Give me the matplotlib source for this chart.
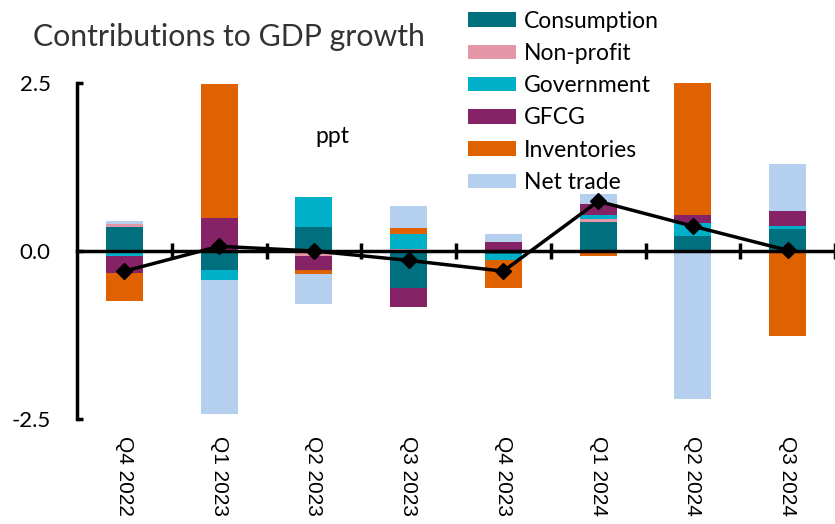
import numpy as np
import matplotlib
matplotlib.use('Agg')
import matplotlib.pyplot as plt

quarters = ['Q4 2022', 'Q1 2023', 'Q2 2023', 'Q3 2023', 'Q4 2023', 'Q1 2024', 'Q2 2024', 'Q3 2024']

consumption = [0.36, -0.28, 0.36, -0.55, -0.04, 0.43, 0.23, 0.32]
non_profit = [0.04, 0.00, -0.08, 0.03, 0.00, 0.04, 0.00, 0.00]
government = [-0.08, -0.15, 0.45, 0.23, -0.10, 0.06, 0.18, 0.05]
gfcg = [-0.25, 0.49, -0.20, -0.28, 0.14, 0.17, 0.12, 0.22]
inventories = [-0.41, 2.00, -0.06, 0.08, -0.41, -0.08, 2.00, -1.26]
net_trade = [0.05, -2.00, -0.45, 0.33, 0.12, 0.15, -2.20, 0.70]
gdp = [-0.30, 0.07, 0.00, -0.14, -0.30, 0.74, 0.37, 0.01]

names = ['Consumption', 'Non-profit', 'Government', 'GFCG', 'Inventories', 'Net trade']
colors = ['#00707E', '#E597AA', '#00AFC8', '#862366', '#E06100', '#B5D0EE']
series = [consumption, non_profit, government, gfcg, inventories, net_trade]

plt.rcParams['font.family'] = ['Lato', 'DejaVu Sans']

fig = plt.figure(figsize=(8.35, 5.24), dpi=100)
ax = fig.add_axes([77 / 835, 105 / 524, 758 / 835, 336 / 524])

x = np.arange(len(quarters))
pos_base = np.zeros(len(quarters))
neg_base = np.zeros(len(quarters))
for name, col, vals in zip(names, colors, series):
    v = np.array(vals)
    bottoms = np.where(v >= 0, pos_base, neg_base)
    ax.bar(x, v, 0.39, bottom=bottoms, color=col, label=name, zorder=2)
    pos_base += np.where(v >= 0, v, 0)
    neg_base += np.where(v < 0, v, 0)

ax.plot(x, gdp, color='black', lw=2.5, marker='D', ms=8.5, zorder=4)

ax.set_xlim(-0.5, 7.5)
ax.set_ylim(-2.5, 2.5)

ax.spines['top'].set_visible(False)
ax.spines['right'].set_visible(False)
ax.spines['left'].set_linewidth(2.5)
ax.spines['bottom'].set_position(('data', 0))
ax.spines['bottom'].set_linewidth(2.5)
ax.spines['bottom'].set_zorder(3)

ax.set_xticks(np.arange(0.5, 8, 1))
ax.set_xticklabels([])
ax.tick_params(axis='x', direction='inout', length=12, width=2.5)

ax.set_yticks([-2.5, 0, 2.5])
ax.set_yticklabels(['-2.5', '0.0', '2.5'])
ax.tick_params(axis='y', direction='in', length=4, width=2.5, labelsize=16, pad=19)

for i, q in enumerate(quarters):
    ax.text(i, -0.05, q, transform=ax.get_xaxis_transform(), rotation=270,
            ha='center', va='top', fontsize=15, family='Liberation Sans')

fig.text(33 / 835, 1 - 37 / 524, 'Contributions to GDP growth', fontsize=21.8,
         color='#333333', va='center', ha='left')
ax.text(2.2, 1.7, 'ppt', fontsize=16.5, ha='center', va='center')

fig.legend(loc='upper left', bbox_to_anchor=(459 / 835, 0.997), frameon=False,
           fontsize=16.5, handlelength=2.1, handleheight=0.6, handletextpad=0.35,
           labelspacing=0.49, borderaxespad=0)

fig.savefig('out.png', dpi=100)
